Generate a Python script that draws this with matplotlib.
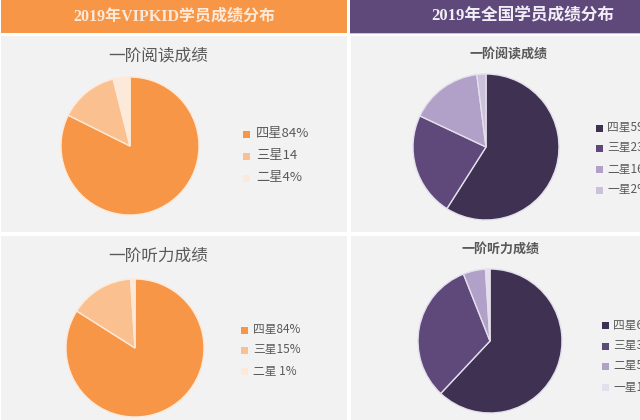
import matplotlib
matplotlib.use('Agg')
import matplotlib.pyplot as plt
from matplotlib.patches import Rectangle

plt.rcParams['font.family'] = ['Noto Sans CJK SC', 'DejaVu Sans']

W, H = 640, 420

left_header = '2019年VIPKID学员成绩分布'
right_header = '2019年全国学员成绩分布'

orange_values = [[84, 14, 4], [84, 15, 1]]
orange_labels = [['四星84%', '三星14', '二星4%'], ['四星84%', '三星15%', '二星 1%']]
purple_values = [[59, 23, 16, 2], [62, 32, 5, 1]]
purple_labels = [['四星59%', '三星23%', '二星16%', '一星2%'], ['四星62%', '三星32%', '二星5%', '一星1%']]
titles = ['一阶阅读成绩', '一阶听力成绩']

orange_colors = ['#F79646', '#FBC08F', '#FDE9D9']
purple_colors = ['#3F3151', '#5F497A', '#B1A0C7', '#CCC1DA']
purple_colors_b = ['#3F3151', '#5F497A', '#B1A0C7', '#E4DFEC']
orange_edge = '#FDE9D9'
purple_edge = '#E4DFEC'

fig = plt.figure(figsize=(W / 100, H / 100), dpi=100, facecolor='white')


def px_axes(x0, y0, x1, y1):
    # pixel box, y measured from the top of the image
    return fig.add_axes([x0 / W, 1 - y1 / H, (x1 - x0) / W, (y1 - y0) / H])


# full-figure layer for the panels and headers
bg = px_axes(0, 0, W, H)
bg.set_xlim(0, W)
bg.set_ylim(H, 0)
bg.axis('off')
for (x0, y0, x1, y1, c) in [
    (1, 0, 347, 33, '#F79646'), (350, 0, 640, 33, '#5F497A'),
    (1, 36, 347, 232, '#F2F2F2'), (351, 36, 640, 232, '#F2F2F2'),
    (1, 236, 347, 420, '#F2F2F2'), (351, 236, 640, 420, '#F2F2F2'),
]:
    bg.add_patch(Rectangle((x0, y0), x1 - x0, y1 - y0, color=c, lw=0))
bg.add_patch(Rectangle((350, 33), 290, 1, color='#CCC1DA', lw=0))

bg.text(174, 16.5, left_header, ha='center', va='center', color='#FDE9D9', fontsize=11.5,
        family=['Liberation Serif', 'Noto Sans CJK SC'], fontweight='bold')
bg.text(523, 16.5, right_header, ha='center', va='center', color='#F2EEF6', fontsize=12,
        family=['Liberation Serif', 'Noto Sans CJK SC'], fontweight='bold')

bg.text(158, 56, titles[0], ha='center', va='center', color='#595959', fontsize=12)
bg.text(158, 256, titles[1], ha='center', va='center', color='#595959', fontsize=12)
bg.text(509, 55, titles[0], ha='center', va='center', color='#595959', fontsize=9.4, fontweight='bold')
bg.text(501, 249, titles[1], ha='center', va='center', color='#595959', fontsize=9.4, fontweight='bold')


def draw_pie(values, colors, edge, cx, cy, r):
    ax = px_axes(cx - r, cy - r, cx + r, cy + r)
    ax.pie(values, colors=colors, startangle=90, counterclock=False, radius=1.0,
           wedgeprops={'edgecolor': edge, 'linewidth': 1.0})
    ax.set_xlim(-1, 1)
    ax.set_ylim(-1, 1)


def draw_legend(labels, colors, x, ys, size, gap):
    for label, c, y in zip(labels, colors, ys):
        bg.add_patch(Rectangle((x, y - 3), 6.5, 6.5, color=c, lw=0))
        bg.text(x + gap, y, label, ha='left', va='center', color='#595959', fontsize=size, clip_on=True)


draw_pie(orange_values[0], orange_colors, orange_edge, 130, 146, 69)
draw_pie(orange_values[1], orange_colors, orange_edge, 135, 348, 69)
draw_pie(purple_values[0], purple_colors, purple_edge, 486, 147, 73)
draw_pie(purple_values[1], purple_colors_b, purple_edge, 490, 341, 72)

draw_legend(orange_labels[0], orange_colors, 243, [134, 156, 178], 9.5, 13)
draw_legend(orange_labels[1], orange_colors, 241, [330, 350, 371], 8.5, 12)
draw_legend(purple_labels[0], purple_colors, 596, [128, 148, 169, 190], 8.5, 11)
draw_legend(purple_labels[1], purple_colors_b, 602, [325, 346, 366, 387], 8.5, 11)

fig.savefig('out.png', dpi=100, facecolor='white')
